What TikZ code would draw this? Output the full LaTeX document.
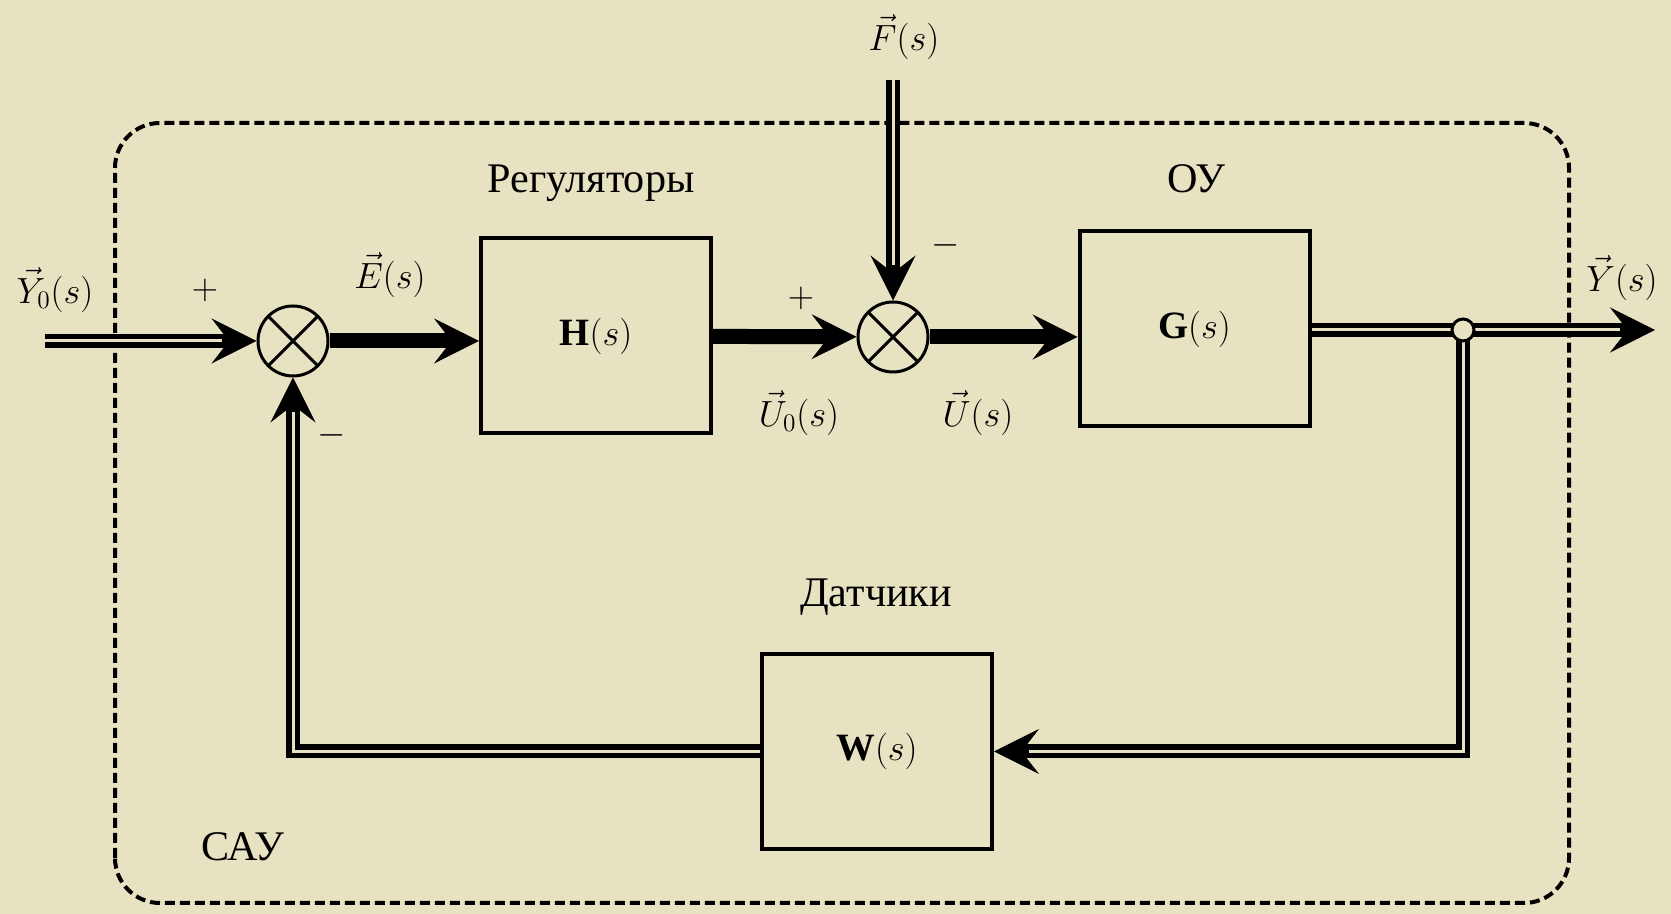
\documentclass[tikz,border=0pt]{standalone}
\usepackage{amsmath}
\usepackage{fontspec}
\setmainfont{Liberation Serif}
\usetikzlibrary{arrows.meta}
\definecolor{paper}{RGB}{231,226,193}

\begin{document}
\begin{tikzpicture}[
    font=\fontsize{22}{26}\selectfont,
    heading/.style={font=\fontsize{24}{28}\selectfont},
    block/.style={draw, line width=0.08cm, minimum width=4.6cm, minimum height=3.9cm},
    summer/.style={circle, draw, fill=paper, line width=0.06cm, minimum size=1.4cm, inner sep=0pt,
        path picture={\draw[line width=0.06cm]
            (path picture bounding box.north west) -- (path picture bounding box.south east)
            (path picture bounding box.north east) -- (path picture bounding box.south west);}},
    dot/.style={circle, draw, fill=paper, line width=0.06cm, minimum size=0.44cm, inner sep=0pt},
    arrowtip/.style={-{Stealth[length=0.9cm, width=0.9cm, inset=0.35cm, line width=0.5pt]}},
    signal/.style={arrowtip, line width=0.3cm},
    bus/.style={arrowtip, line width=0.28cm,
        postaction={draw=paper, line width=0.06cm, -, shorten >=0.7cm}},
]
    \fill[paper] (0,0) rectangle (33.42,18.28);
    \draw[line width=0.08cm, dash pattern=on 0.2cm off 0.1cm, rounded corners=0.9cm]
        (2.30,0.22) rectangle (31.38,15.82);

    \node[summer] (sum1) at (5.86, 11.46) {};
    \node[summer] (sum2) at (17.86, 11.54) {};
    \node[block] (ctrl) at (11.92, 11.56) {$\mathbf{H}(s)$};
    \node[block] (plant) at (23.89, 11.70) {$\mathbf{G}(s)$};
    \node[block] (sens) at (17.54, 3.25) {$\mathbf{W}(s)$};
    \coordinate (y0) at (0.90, 11.46);
    \coordinate (f) at (17.86, 16.68);
    \coordinate (tap) at (29.26, 11.68);
    \coordinate (y) at (33.10, 11.68);

    \node (y0lbl) at (1.10, 12.48) {$\vec{Y}_0(s)$};
    \node (plus1) at (4.10, 12.48) {$+$};
    \node (minus1) at (6.64, 9.58) {$-$};
    \node (elbl) at (7.80, 12.78) {$\vec{E}(s)$};
    \node[heading] (ctrltitle) at (11.82, 14.62) {Регуляторы};
    \node (plus2) at (16.02, 12.32) {$+$};
    \node (u0lbl) at (15.98, 10.02) {$\vec{U}_0(s)$};
    \node (flbl) at (18.08, 17.54) {$\vec{F}(s)$};
    \node (minus2) at (18.92, 13.38) {$-$};
    \node (ulbl) at (19.56, 10.02) {$\vec{U}(s)$};
    \node[heading] (planttitle) at (23.92, 14.70) {ОУ};
    \node (ylbl) at (32.44, 12.72) {$\vec{Y}(s)$};
    \node[heading] (senstitle) at (17.52, 6.34) {Датчики};
    \node[heading] (sautitle) at (4.86, 1.34) {САУ};

    \draw[signal] (sum1.east) -- (sum1.east -| ctrl.west);
    \draw[signal] (ctrl) -- (sum2);
    \draw[signal] (sum2.east) -- (sum2.east -| plant.west);
    \draw[bus] (y0) -- (sum1.west);
    \draw[bus] (f) -- (sum2.north);
    \draw[bus] (plant.east |- y) -- (y);
    \draw[bus] (tap) |- (sens.east);
    \draw[bus] (sens.west) -| (sum1.south);
    \node[dot] (branch) at (tap) {};
\end{tikzpicture}
\end{document}
